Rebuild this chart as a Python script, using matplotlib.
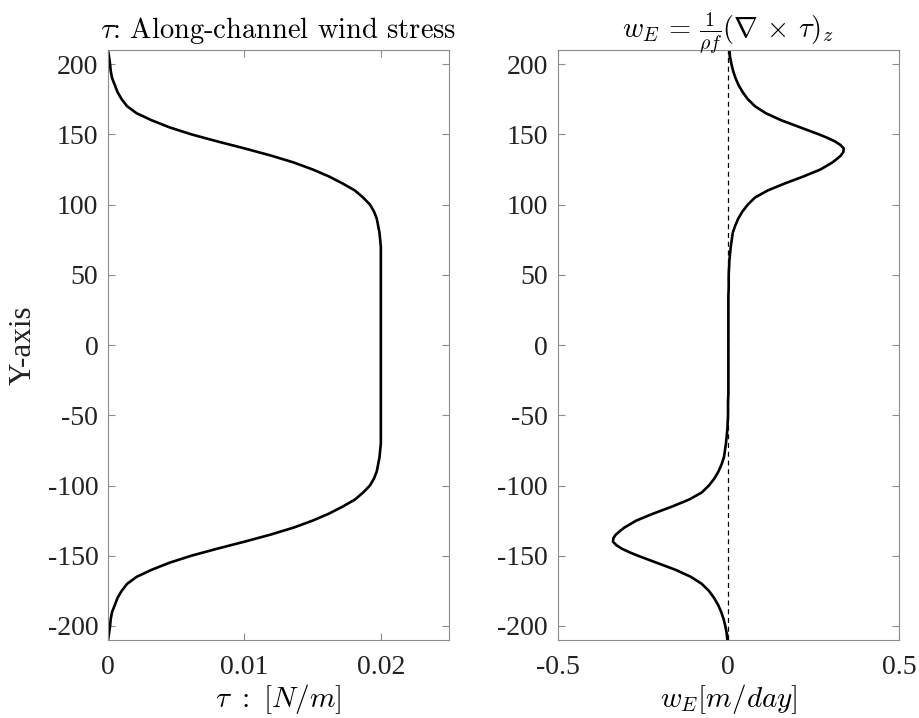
import numpy as np
import matplotlib
matplotlib.use("Agg")
import matplotlib.pyplot as plt

plt.rcParams["mathtext.fontset"] = "cm"
plt.rcParams["axes.unicode_minus"] = False

# sample positions along the channel
y = np.arange(-210, 215, 5)
# finer sampling around the two Ekman peaks
y_we = np.r_[np.arange(-210, -150, 5), np.arange(-150, -127.5, 2.5),
             np.arange(-125, 130, 5), np.arange(130, 152.5, 2.5),
             np.arange(155, 215, 5)]

# wind stress, y = -210 ... 210
tau = [0.0, 0.00008, 0.00015, 0.0002, 0.0003, 0.0005, 0.0007, 0.0010, 0.0014, 0.0021,
       0.0032, 0.0045, 0.0061, 0.0080, 0.0100, 0.0119, 0.0136, 0.0150, 0.0162, 0.0172,
       0.0181, 0.0187, 0.0192, 0.0195, 0.0197, 0.0198, 0.0199, 0.01995, 0.0200, 0.0200,
       0.0200, 0.0200, 0.0200, 0.0200, 0.0200, 0.0200, 0.0200, 0.0200, 0.0200, 0.0200,
       0.0200, 0.0200, 0.0200,
       0.0200, 0.0200, 0.0200, 0.0200, 0.0200, 0.0200, 0.0200, 0.0200, 0.0200, 0.0200,
       0.0200, 0.0200, 0.0200, 0.0200, 0.01995, 0.0199, 0.0198, 0.0197, 0.0195, 0.0192,
       0.0187, 0.0181, 0.0172, 0.0162, 0.0150, 0.0136, 0.0119, 0.0100, 0.0080, 0.0061,
       0.0045, 0.0032, 0.0021, 0.0014, 0.0010, 0.0007, 0.0005, 0.0003, 0.0002, 0.00015,
       0.00008, 0.0]

# Ekman velocity, at y_we
w_e = [-0.003, -0.005, -0.009, -0.014, -0.021, -0.030, -0.042, -0.057, -0.078, -0.110,
       -0.155, -0.210,
       -0.265, -0.290, -0.312, -0.328, -0.338, -0.337, -0.330, -0.318, -0.305,
       -0.270, -0.220, -0.165, -0.115, -0.078, -0.057, -0.041, -0.029, -0.020, -0.013,
       -0.010, -0.007, -0.005, -0.003, -0.002, -0.001, -0.001, -0.001,
       0.0, 0.0, 0.0, 0.0, 0.0, 0.0, 0.0, 0.0, 0.0, 0.0, 0.0, 0.0, 0.0, 0.0, 0.0,
       0.001, 0.001, 0.001, 0.002, 0.003, 0.005, 0.007, 0.010, 0.013,
       0.020, 0.029, 0.041, 0.057, 0.078, 0.115, 0.165, 0.220, 0.270,
       0.305, 0.318, 0.330, 0.337, 0.338, 0.328, 0.312, 0.290, 0.265,
       0.210, 0.155, 0.110, 0.078, 0.057, 0.042, 0.030, 0.021, 0.014, 0.009,
       0.005, 0.003]

yticks = [-200, -150, -100, -50, 0, 50, 100, 150, 200]
tau_ticks = [0, 0.01, 0.02]
tau_ticklabels = ["0", "0.01", "0.02"]
we_ticks = [-0.5, 0, 0.5]
we_ticklabels = ["-0.5", "0", "0.5"]

tick_font = "Liberation Serif"
spine_col = "#8c8c8c"
text_col = "#222222"

fig = plt.figure(figsize=(9.2, 7.18), dpi=100)
ax1 = fig.add_axes([0.1174, 0.1086, 0.3707, 0.8217])
ax2 = fig.add_axes([0.6062, 0.1086, 0.3710, 0.8217])

ax1.plot(tau, y, color="k", lw=1.9)
ax1.set_xlim(0, 0.025)
ax1.set_xticks(tau_ticks)
ax1.set_xticklabels(tau_ticklabels)
ax1.set_title(r"$\tau$: Along-channel wind stress", fontfamily="cmr10", fontsize=20.5, pad=9)
ax1.set_xlabel(r"$\tau\ :\ [N/m]$", fontsize=21, labelpad=1)
ax1.set_ylabel("Y-axis", fontfamily=tick_font, fontsize=22.5, color=text_col, labelpad=7)

ax2.axvline(0, color="k", lw=0.9, ls=(0, (4, 3)))
ax2.plot(w_e, y_we, color="k", lw=1.9)
ax2.set_xlim(-0.5, 0.5)
ax2.set_xticks(we_ticks)
ax2.set_xticklabels(we_ticklabels)
ax2.set_title(r"$w_E\,=\,\frac{1}{\rho f}(\nabla\,\times\,\tau)_z$", fontsize=20.5, pad=9)
ax2.set_xlabel(r"$w_E[m/day]$", fontsize=21, labelpad=1)

for ax in (ax1, ax2):
    ax.set_ylim(-210, 210)
    ax.set_yticks(yticks)
    ax.tick_params(direction="in", top=True, right=True, length=5, width=0.8,
                   color=spine_col, labelcolor=text_col, labelsize=20, pad=7)
    ax.tick_params(axis="x", pad=11)
    for lab in ax.get_xticklabels() + ax.get_yticklabels():
        lab.set_fontfamily(tick_font)
    for sp in ax.spines.values():
        sp.set_color(spine_col)
        sp.set_linewidth(0.8)

fig.savefig("out.png", dpi=100)
